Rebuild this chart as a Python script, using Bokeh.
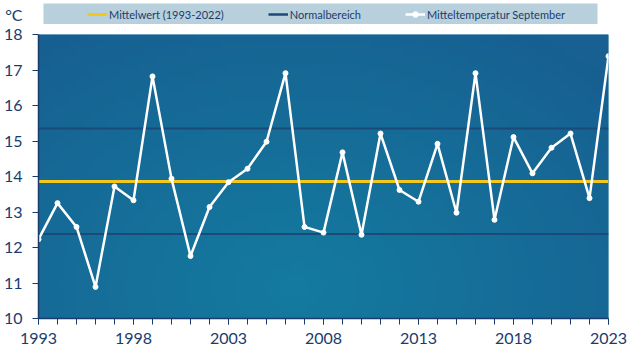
import numpy as np
from bokeh.plotting import figure
from bokeh.layouts import column
from bokeh.models import Range1d, FixedTicker, Legend, LegendItem
from bokeh.embed import file_html
from bokeh.resources import INLINE

years = list(range(1993, 2024))
temps = [12.23, 13.25, 12.58, 10.89, 13.72, 13.33, 16.82, 13.94, 11.76, 13.14,
         13.84, 14.22, 14.98, 16.91, 12.58, 12.42, 14.68, 12.36, 15.21, 13.62,
         13.29, 14.92, 12.98, 16.91, 12.78, 15.11, 14.09, 14.81, 15.21, 13.39, 17.39]
mean_value = 13.86
normal_low = 12.38
normal_high = 15.35
x_tick_labels = [1993, 1998, 2003, 2008, 2013, 2018, 2023]
y_ticks = list(range(10, 19))
legend_labels = ["Mittelwert (1993-2022)", "Normalbereich", "Mitteltemperatur September"]
unit_label = "°C"

FONT = "Lato"
NAVY = "#1a3c6c"
YELLOW = "#f2c81c"
DARK = "#1b4a78"
HEADER_H = 24
LEFT, RIGHT = 38, 24

# ---------------- header (legend + unit) ----------------
hdr = figure(width=632, height=HEADER_H, x_range=Range1d(LEFT, 632 - RIGHT), y_range=Range1d(HEADER_H, 0),
             output_backend="svg", toolbar_location=None,
             min_border_left=LEFT, min_border_right=RIGHT, min_border_top=0, min_border_bottom=0)
hdr.xaxis.visible = False
hdr.grid.visible = False
hdr.outline_line_color = None
hdr.background_fill_color = "white"
hdr.border_fill_color = "white"
# unit shown as the header's (otherwise invisible) y-axis label
hdr.yaxis.ticker = FixedTicker(ticks=[14])
hdr.yaxis.major_label_overrides = {14: unit_label}
hdr.yaxis.axis_line_color = None
hdr.yaxis.major_tick_line_color = None
hdr.yaxis.minor_tick_line_color = None
hdr.yaxis.major_label_standoff = 10
hdr.yaxis.major_label_text_font = FONT
hdr.yaxis.major_label_text_font_size = "16px"
hdr.yaxis.major_label_text_color = NAVY

hdr.quad(left=[43], right=[597], top=[3], bottom=[HEADER_H], fill_color="#b8cfdc", line_color=None)
off = [-20, -20]
h_mean = hdr.line([100, 101], off, line_color=YELLOW, line_width=3)
h_norm = hdr.line([100, 101], off, line_color=DARK, line_width=2.5)
h_line = hdr.line([100, 101], off, line_color="white", line_width=2.5)
h_pts = hdr.scatter([100], [-20], size=5, fill_color="white", line_color="white")
legend = Legend(items=[LegendItem(label=legend_labels[0], renderers=[h_mean]),
                       LegendItem(label=legend_labels[1], renderers=[h_norm]),
                       LegendItem(label=legend_labels[2], renderers=[h_line, h_pts])],
                orientation="horizontal", location=(49, 3),
                background_fill_alpha=0, border_line_color=None,
                label_text_font=FONT, label_text_font_size="11px", label_text_color=NAVY,
                glyph_width=20, glyph_height=14, label_height=14, label_standoff=2, spacing=44,
                padding=0, margin=0)
hdr.add_layout(legend)

# ---------------- main chart ----------------
p = figure(width=632, height=355 - HEADER_H, x_range=Range1d(1993, 2023), y_range=Range1d(10, 18),
           output_backend="svg", toolbar_location=None,
           min_border_left=LEFT, min_border_right=RIGHT, min_border_top=34 - HEADER_H, min_border_bottom=37)
p.border_fill_color = "white"
p.background_fill_color = "#166f9a"
p.outline_line_color = None
p.xgrid.visible = False
p.ygrid.visible = False

# background gradient (decoration)
H, W = 40, 120
vv, uu = np.mgrid[0:H, 0:W]
u = uu / (W - 1)
v = vv / (H - 1)
d = np.sqrt(((u - 0.45) / 0.75) ** 2 + ((v - 0.1) / 1.1) ** 2)
t = np.clip(d, 0, 1)
light = np.array([20, 123, 160])
dark = np.array([23, 96, 145])
rgb = light[None, None, :] * (1 - t[..., None]) + dark[None, None, :] * t[..., None]
img = np.empty((H, W), dtype=np.uint32)
view = img.view(dtype=np.uint8).reshape((H, W, 4))
view[..., 0] = rgb[..., 0].astype(np.uint8)
view[..., 1] = rgb[..., 1].astype(np.uint8)
view[..., 2] = rgb[..., 2].astype(np.uint8)
view[..., 3] = 255
p.image_rgba(image=[img], x=years[0], y=y_ticks[0], dw=years[-1] - years[0], dh=y_ticks[-1] - y_ticks[0])

xs_full = [years[0], years[-1]]
p.line(xs_full, [normal_low, normal_low], line_color=DARK, line_width=2)
p.line(xs_full, [normal_high, normal_high], line_color=DARK, line_width=2)
p.line(xs_full, [mean_value, mean_value], line_color=YELLOW, line_width=3)
p.line(years, temps, line_color="white", line_width=2.5)
p.scatter(years, temps, size=5, fill_color="white", line_color="white")

# axes
p.yaxis.ticker = FixedTicker(ticks=y_ticks)
p.yaxis.axis_line_color = NAVY
p.yaxis.axis_line_width = 1.5
p.yaxis.major_tick_line_color = NAVY
p.yaxis.major_tick_out = 6
p.yaxis.major_tick_in = 0
p.yaxis.minor_tick_line_color = None
p.yaxis.major_label_text_font = FONT
p.yaxis.major_label_text_font_size = "16px"
p.yaxis.major_label_text_color = NAVY
p.yaxis.major_label_standoff = 10

p.xaxis.ticker = FixedTicker(ticks=x_tick_labels, minor_ticks=years)
p.xaxis.axis_line_color = NAVY
p.xaxis.axis_line_width = 1.5
p.xaxis.major_tick_line_color = NAVY
p.xaxis.minor_tick_line_color = NAVY
p.xaxis.major_tick_out = 6
p.xaxis.major_tick_in = 0
p.xaxis.minor_tick_out = 6
p.xaxis.minor_tick_in = 0
p.xaxis.major_label_text_font = FONT
p.xaxis.major_label_text_font_size = "16px"
p.xaxis.major_label_text_color = NAVY
p.xaxis.major_label_standoff = 8

layout = column(hdr, p, spacing=0)
open("out.html", "w").write(file_html(layout, INLINE))
